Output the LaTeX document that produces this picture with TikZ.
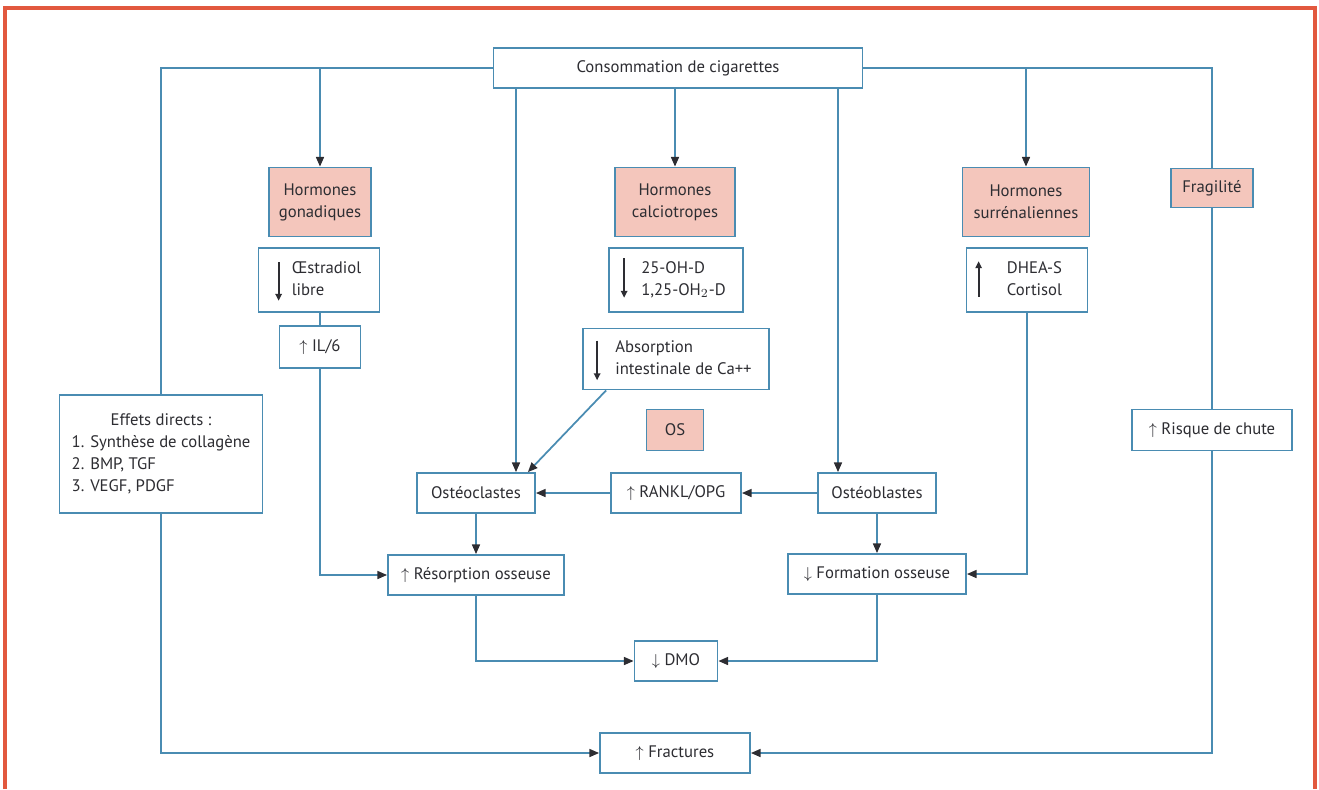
\documentclass[tikz,border=0pt]{standalone}
\usepackage{fontspec}
\setmainfont{PT Sans}
\usetikzlibrary{arrows.meta}

\definecolor{lineblue}{RGB}{74,140,178}
\definecolor{hormpink}{RGB}{244,198,188}
\definecolor{framered}{RGB}{226,88,62}
\definecolor{txtgray}{RGB}{45,45,50}

\tikzset{sz/.style 2 args={minimum width=#1*0.02cm,minimum height=#2*0.02cm}}
% two lines of text, room left for an arrow
\newcommand{\padlines}[1]{\begin{tabular}{@{\hspace{0.3cm}}l@{}}#1\end{tabular}}

\begin{document}
\begin{tikzpicture}[x=0.02cm,y=-0.02cm,font=\fontsize{9.5}{12.5}\selectfont]
	\useasboundingbox (0,0) rectangle (1319,789);
	\tikzstyle{every node}=[draw=lineblue,line width=1pt,fill=white,text=txtgray,inner sep=1pt,align=center]
	\tikzstyle{pinkbox}=[fill=hormpink]
	\tikzstyle{link}=[draw=lineblue,line width=1pt]
	\tikzstyle{arr}=[link,-{Triangle[length=5.5pt,width=4.5pt,color=txtgray]}]
	\tikzstyle{txtarr}=[draw=txtgray,line width=1.1pt,-{Triangle[length=4pt,width=3.6pt]}]
	% frame
	\draw[framered,line width=2pt] (5,789) -- (5,8) -- (1315,8) -- (1315,789);
	% top row
	\node[sz={369}{40}] (smoke) at (678,68) {Consommation de cigarettes};
	\node[pinkbox,sz={102}{69}] (gon) at (320,202) {Hormones\\gonadiques};
	\node[pinkbox,sz={120}{69}] (calc) at (675,202) {Hormones\\calciotropes};
	\node[pinkbox,sz={127}{69}] (surr) at (1026,202) {Hormones\\surrénaliennes};
	\node[pinkbox,sz={82}{39}] (frag) at (1212,188) {Fragilité};
	% hormone effects
	\node[sz={121}{64}] (oestr) at (319,280) {\padlines{Œstradiol\\libre}};
	\node[sz={134}{64}] (vitd) at (676,280) {\padlines{25-OH-D\\1,25-OH$_2$-D}};
	\node[sz={121}{64}] (dhea) at (1027,280) {\padlines{DHEA-S\\Cortisol}};
	\node[sz={81}{42}] (il6) at (320,347) {$\uparrow$ IL/6};
	\node[sz={186}{61}] (absorp) at (676,359) {\padlines{Absorption\\intestinale de Ca++}};
	\draw[txtarr] ([shift={(21,15)}]oestr.north west) -- ([shift={(21,-12)}]oestr.south west);
	\draw[txtarr] ([shift={(16,11)}]vitd.north west) -- ([shift={(16,-15)}]vitd.south west);
	\draw[txtarr] ([shift={(15,13)}]absorp.north west) -- ([shift={(15,-10)}]absorp.south west);
	\draw[txtarr] ([shift={(13,-16)}]dhea.south west) -- ([shift={(13,14)}]dhea.north west);
	\node[sz={203}{118}] (effets) at (161,454) {\begin{tabular}{@{}l@{}}\multicolumn{1}{@{}c@{}}{Effets directs :}\\1. Synthèse de collagène\\2. BMP, TGF\\3. VEGF, PDGF\end{tabular}};
	\node[pinkbox,sz={57}{41}] (os) at (675,430) {OS};
	\node[sz={160}{41}] (risque) at (1212,430) {$\uparrow$ Risque de chute};
	% bone cells
	\node[sz={118}{40}] (ocl) at (476,493) {Ostéoclastes};
	\node[sz={130}{40}] (rankl) at (676,493) {$\uparrow$ RANKL/OPG};
	\node[sz={118}{40}] (obl) at (877,493) {Ostéoblastes};
	\node[sz={176}{40}] (resorp) at (476,575) {$\uparrow$ Résorption osseuse};
	\node[sz={178}{40}] (form) at (877,574) {$\downarrow$ Formation osseuse};
	\node[sz={83}{40}] (dmo) at (676,661) {$\downarrow$ DMO};
	\node[sz={150}{40}] (fract) at (675,753) {$\uparrow$ Fractures};
	% connectors from the top box
	\draw[link] (smoke.west) -| (effets.north);
	\draw[arr] (effets.south) |- (fract.west);
	\draw[arr] (smoke.west -| gon.north) -- (gon.north);
	\draw[arr] (smoke.south -| 516,0) -- (516,0 |- ocl.north);
	\draw[arr] (smoke.south -| calc.north) -- (calc.north);
	\draw[arr] (smoke.south -| 838,0) -- (838,0 |- obl.north);
	\draw[arr] (smoke.east -| surr.north) -- (surr.north);
	\draw[link] (smoke.east) -| (frag.north);
	\draw[link] (frag.south) -- (risque.north);
	\draw[arr] (risque.south) |- (fract.east);
	% left branch
	\draw[link] (oestr.south -| il6.north) -- (il6.north);
	\draw[arr] (il6.south) |- (resorp.west);
	% middle
	\draw[arr] ([xshift=0.48cm]absorp.south west) -- ([xshift=-0.16cm]ocl.north east);
	\draw[arr] (rankl.west) -- (ocl.east);
	\draw[arr] (obl.west) -- (rankl.east);
	\draw[arr] (ocl.south) -- (resorp.north);
	\draw[arr] (obl.south) -- (form.north);
	\draw[arr] (dhea.south) |- (form.east);
	\draw[arr] (resorp.south) |- (dmo.west);
	\draw[arr] (form.south) |- (dmo.east);
\end{tikzpicture}
\end{document}
